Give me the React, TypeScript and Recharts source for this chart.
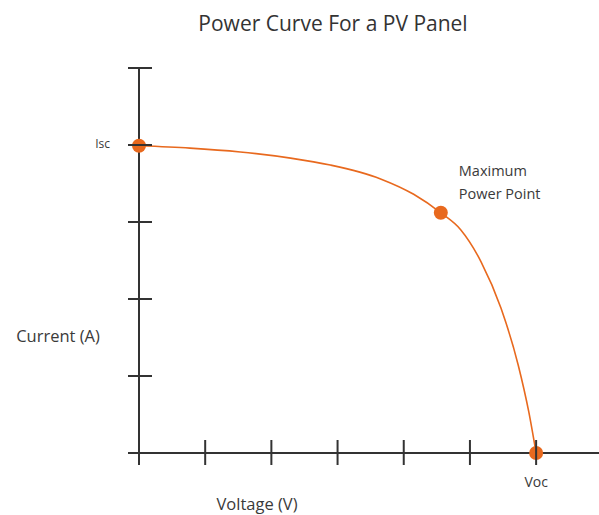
import React from "react";
import { LineChart, Line, XAxis, YAxis } from "recharts";

// I-V curve
const voltage = [0, 0.77, 1.53, 2.29, 2.89, 3.65, 4.15, 4.56, 4.86, 5.17, 5.47, 5.73, 5.89, 6.0];
const current = [3.99, 3.96, 3.91, 3.83, 3.74, 3.56, 3.36, 3.12, 2.9, 2.48, 1.88, 1.14, 0.53, 0];
// which points get a marker
const markers = ["isc", null, null, null, null, null, null, "mpp", null, null, null, null, null, "voc"];

const xTicks = [0, 1, 2, 3, 4, 5, 6];
const yTicks = [0, 1, 2, 3, 4, 5];
const xTickLabels: Record<number, string> = { 6: "Voc" };
const yTickLabels: Record<number, string> = { 4: "Isc" };
const mppLabel = ["Maximum", "Power Point"];

const data = voltage.map((v, i) => ({ v, i: current[i], mark: markers[i] }));

const FONT = "'Open Sans', sans-serif";
const AXIS = "#333333";
const ORANGE = "#E8691E";
const TEXT = "#3a3a3a";

const XTick = (props: any) => {
  const { x, y, payload } = props;
  const lbl = xTickLabels[payload.value];
  return (
    <g>
      <line x1={x} x2={x} y1={y - 13} y2={y + 12} stroke={AXIS} strokeWidth={2} />
      {lbl && (
        <text x={x} y={y + 30} textAnchor="middle" dominantBaseline="middle" fontSize={14} fill={TEXT} fontFamily={FONT}>
          {lbl}
        </text>
      )}
    </g>
  );
};

const YTick = (props: any) => {
  const { x, y, payload } = props;
  const lbl = yTickLabels[payload.value];
  return (
    <g>
      <line x1={x - 11} x2={x + 13} y1={y} y2={y} stroke={AXIS} strokeWidth={2} />
      {lbl && (
        <text x={x - 29} y={y} textAnchor="end" dominantBaseline="middle" fontSize={12} fill={TEXT} fontFamily={FONT}>
          {lbl}
        </text>
      )}
    </g>
  );
};

const renderDot = (props: any) => {
  const { cx, cy, payload, index } = props;
  if (!payload.mark) return <g key={`d-${index}`} />;
  return (
    <g key={`d-${index}`}>
      <circle cx={cx} cy={cy} r={7} fill={ORANGE} />
      {payload.mark === "mpp" &&
        mppLabel.map((t, k) => (
          <text key={t} x={cx + 18} y={cy - 41 + k * 23} dominantBaseline="middle" fontSize={14.5} fill={TEXT} fontFamily={FONT}>
            {t}
          </text>
        ))}
    </g>
  );
};

export default function App() {
  return (
    <div style={{ position: "absolute", left: 0, top: 0, width: 599, height: 515, background: "#fff" }}>
      <div
        style={{
          position: "absolute",
          left: 0,
          width: 666,
          top: 8,
          textAlign: "center",
          fontFamily: FONT,
          fontSize: 21,
          color: "#333",
          lineHeight: "30px",
        }}
      >
        Power Curve For a PV Panel
      </div>
      <LineChart width={599} height={515} data={data} margin={{ top: 68, right: 0, bottom: 0, left: 0 }}>
        <XAxis
          type="number"
          dataKey="v"
          domain={[0, 6.95]}
          ticks={xTicks}
          height={62}
          tickSize={0}
          tickMargin={0}
          tickLine={false}
          axisLine={{ stroke: AXIS, strokeWidth: 2 }}
          tick={XTick}
          interval={0}
          label={{
            content: (p: any) => (
              <text
                x={p.viewBox.x + 118}
                y={p.viewBox.y + 53}
                textAnchor="middle"
                dominantBaseline="middle"
                fontSize={16.5}
                fill={TEXT}
                fontFamily={FONT}
              >
                Voltage (V)
              </text>
            ),
          }}
        />
        <YAxis
          type="number"
          dataKey="i"
          domain={[0, 5]}
          ticks={yTicks}
          width={139}
          tickSize={0}
          tickMargin={0}
          tickLine={false}
          axisLine={{ stroke: AXIS, strokeWidth: 2 }}
          tick={YTick}
          interval={0}
          label={{
            content: (p: any) => (
              <text
                x={p.viewBox.x + 58}
                y={p.viewBox.y + p.viewBox.height * 0.7}
                textAnchor="middle"
                dominantBaseline="middle"
                fontSize={16.5}
                fill={TEXT}
                fontFamily={FONT}
              >
                Current (A)
              </text>
            ),
          }}
        />
        <Line
          type="monotone"
          dataKey="i"
          stroke={ORANGE}
          strokeWidth={1.6}
          dot={renderDot}
          activeDot={false}
          isAnimationActive={false}
        />
      </LineChart>
    </div>
  );
}
